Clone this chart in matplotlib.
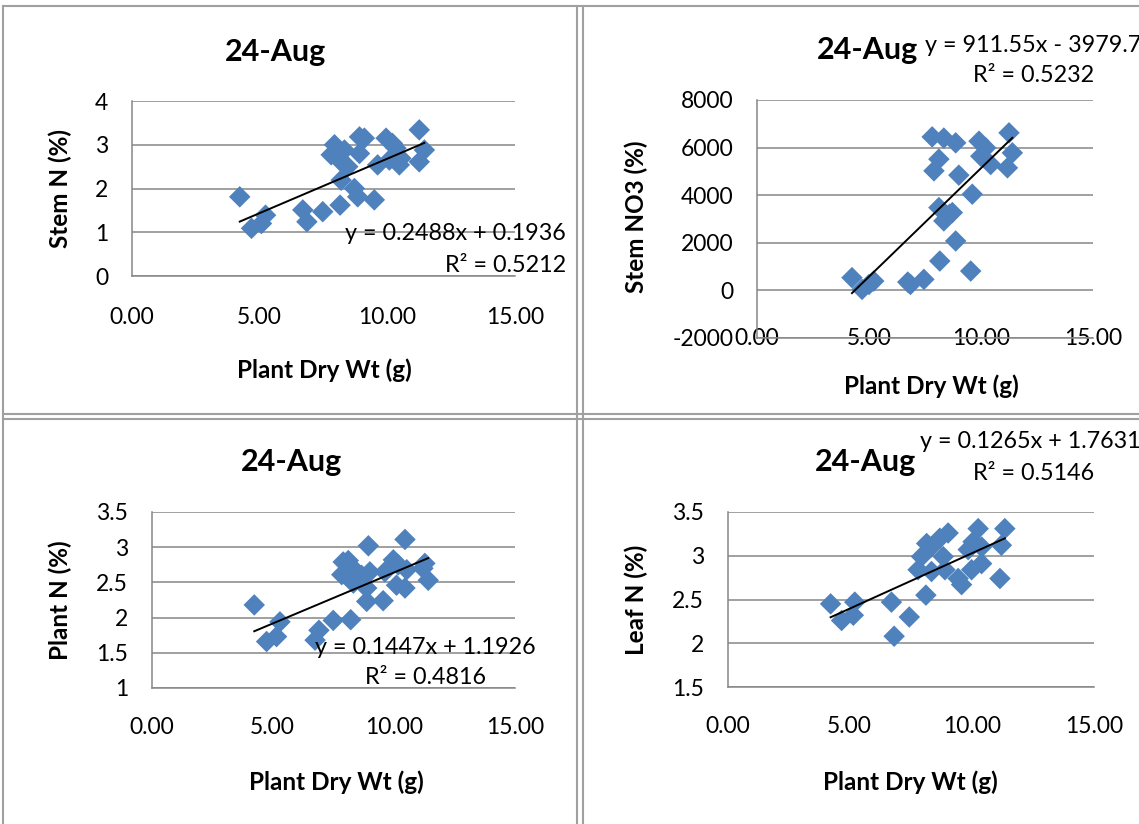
import matplotlib
matplotlib.use("Agg")
import matplotlib.pyplot as plt
from matplotlib.lines import Line2D
import numpy as np

plt.rcParams['font.family'] = ['Lato', 'DejaVu Sans']

# ---------------- data ----------------
title = "24-Aug"
x_label = "Plant Dry Wt (g)"
x_ticks = [0, 5, 10, 15]
x_tick_labels = ["0.00", "5.00", "10.00", "15.00"]

# Panel 1: Stem N (%)
p1_x = [4.22, 4.68, 5.07, 5.23, 6.69, 6.85, 7.47, 8.15, 8.71, 8.84, 9.49, 8.19, 7.93, 7.80, 8.32,
        8.19, 8.45, 8.91, 9.10, 8.91, 9.62, 9.95, 10.20, 10.34, 10.08, 10.47, 10.53, 11.25, 11.45, 11.25]
p1_y = [1.81, 1.09, 1.20, 1.39, 1.51, 1.24, 1.47, 1.62, 2.00, 1.81, 1.74, 2.19, 3.00, 2.77, 2.88,
        2.61, 2.50, 3.18, 3.15, 2.80, 2.54, 3.15, 3.03, 2.92, 2.65, 2.54, 2.69, 3.34, 2.88, 2.61]
p1_coef = [0.2488, 0.1936]
p1_eq = "y = 0.2488x + 0.1936"
p1_r2 = "R² = 0.5212"
p1_ylabel = "Stem N (%)"
p1_yticks = [0, 1, 2, 3, 4]
p1_yticklabels = ["0", "1", "2", "3", "4"]

# Panel 2: Stem NO3
p2_x = [4.24, 4.69, 5.00, 5.21, 6.73, 6.85, 7.45, 8.16, 8.87, 9.54, 8.12, 8.72, 8.34, 8.60, 9.61,
        9.01, 7.90, 8.12, 7.82, 8.34, 8.87, 9.91, 10.21, 9.99, 10.43, 11.25, 11.40, 11.18]
p2_y = [535, 42, 250, 392, 350, 250, 463, 1234, 2077, 813, 3480, 3270, 2920, 3200, 4042,
        4842, 5023, 5515, 6450, 6400, 6200, 6270, 5990, 5640, 5290, 6620, 5780, 5150]
p2_coef = [911.55, -3979.7]
p2_eq = "y = 911.55x - 3979.7"
p2_r2 = "R² = 0.5232"
p2_ylabel = "Stem NO3 (%)"
p2_yticks = [-2000, 0, 2000, 4000, 6000, 8000]
p2_yticklabels = ["-2000", "0", "2000", "4000", "6000", "8000"]

# Panel 3: Plant N (%)
p3_x = [4.24, 4.75, 5.16, 5.30, 6.75, 6.91, 7.50, 8.22, 8.88, 9.56, 8.95, 10.46, 7.91, 8.12, 7.85,
        8.26, 8.33, 8.67, 9.01, 8.88, 9.63, 9.98, 10.18, 10.11, 10.46, 10.53, 11.28, 11.42, 11.20]
p3_y = [2.18, 1.66, 1.73, 1.94, 1.68, 1.82, 1.96, 1.97, 2.23, 2.24, 3.02, 3.11, 2.79, 2.81, 2.61,
        2.72, 2.49, 2.60, 2.65, 2.42, 2.65, 2.82, 2.75, 2.46, 2.42, 2.68, 2.77, 2.53, 2.70]
p3_coef = [0.1447, 1.1926]
p3_eq = "y = 0.1447x + 1.1926"
p3_r2 = "R² = 0.4816"
p3_ylabel = "Plant N (%)"
p3_yticks = [1, 1.5, 2, 2.5, 3, 3.5]
p3_yticklabels = ["1", "1.5", "2", "2.5", "3", "3.5"]

# Panel 4: Leaf N (%)
p4_x = [4.22, 4.67, 5.21, 5.15, 6.71, 6.82, 7.44, 8.12, 7.80, 7.94, 8.15, 8.34, 8.35, 8.69, 9.03,
        8.83, 8.90, 9.44, 9.58, 9.99, 10.40, 9.85, 10.05, 10.26, 10.40, 11.35, 11.21, 11.15]
p4_y = [2.45, 2.26, 2.47, 2.32, 2.47, 2.08, 2.30, 2.55, 2.84, 2.99, 3.14, 3.10, 2.82, 3.20, 3.26,
        2.99, 2.84, 2.74, 2.67, 2.84, 2.91, 3.07, 3.16, 3.31, 3.10, 3.31, 3.12, 2.74]
p4_coef = [0.1265, 1.7631]
p4_eq = "y = 0.1265x + 1.7631"
p4_r2 = "R² = 0.5146"
p4_ylabel = "Leaf N (%)"
p4_yticks = [1.5, 2, 2.5, 3, 3.5]
p4_yticklabels = ["1.5", "2", "2.5", "3", "3.5"]

# ---------------- layout ----------------
W, H = 1139, 824
fig = plt.figure(figsize=(W / 100, H / 100), dpi=100)
fig.patch.set_facecolor("white")

def rect(l, t, r, b):
    return [l / W, 1 - b / H, (r - l) / W, (b - t) / H]

def ftext(x, y, s, **kw):
    fig.text(x / W, 1 - y / H, s, **kw)

# cell borders
border = "#a0a0a0"
for xp in [3, 577, 583]:
    fig.add_artist(Line2D([xp / W, xp / W], [0, 1 - 6 / H], color=border, lw=1.5))
for yp in [6, 414, 419]:
    fig.add_artist(Line2D([3 / W, 1], [1 - yp / H, 1 - yp / H], color=border, lw=1.5))

blue = "#4F81BD"
grid_c = "#868686"

panels = [
    dict(x=p1_x, y=p1_y, coef=p1_coef, eq=p1_eq, r2=p1_r2, ylabel=p1_ylabel,
         yt=p1_yticks, ytl=p1_yticklabels, box=(132, 101, 515, 276), xpad=22,
         title_xy=(275, 52), ylab_xy=(60, 188), xlab_xy=(324, 370),
         eq_xy=(566, 234), r2_xy=(566, 266), eq_ha="right"),
    dict(x=p2_x, y=p2_y, coef=p2_coef, eq=p2_eq, r2=p2_r2, ylabel=p2_ylabel,
         yt=p2_yticks, ytl=p2_yticklabels, box=(757, 100, 1093, 338), xpad=-7,
         title_xy=(867, 50), ylab_xy=(636, 217), xlab_xy=(931, 386),
         eq_xy=(925, 46), r2_xy=(1094, 75), eq_ha="left"),
    dict(x=p3_x, y=p3_y, coef=p3_coef, eq=p3_eq, r2=p3_r2, ylabel=p3_ylabel,
         yt=p3_yticks, ytl=p3_yticklabels, box=(151.5, 512, 515, 688), xpad=21,
         title_xy=(292, 462), ylab_xy=(60, 600), xlab_xy=(336, 782),
         eq_xy=(536, 647), r2_xy=(486, 677), eq_ha="right"),
    dict(x=p4_x, y=p4_y, coef=p4_coef, eq=p4_eq, r2=p4_r2, ylabel=p4_ylabel,
         yt=p4_yticks, ytl=p4_yticklabels, box=(727.5, 512, 1094, 687), xpad=21,
         title_xy=(865, 462), ylab_xy=(636, 600), xlab_xy=(910, 782),
         eq_xy=(920, 441), r2_xy=(1094, 473), eq_ha="left"),
]

tick_fs = 16.5
eq_fs = 16.8
lab_fs = 17.5
for p in panels:
    ax = fig.add_axes(rect(*p["box"]))
    ax.set_xlim(0, 15)
    ax.set_ylim(p["yt"][0], p["yt"][-1])
    ax.set_xticks(x_ticks)
    ax.set_xticklabels(x_tick_labels)
    ax.set_yticks(p["yt"])
    ax.set_yticklabels(p["ytl"])
    ax.tick_params(axis="both", length=0, labelsize=tick_fs, colors="black")
    ax.tick_params(axis="x", pad=p["xpad"])
    ax.tick_params(axis="y", pad=17)
    ax.grid(axis="y", color=grid_c, lw=1.1)
    ax.set_axisbelow(True)
    for s in ["top", "right"]:
        ax.spines[s].set_visible(False)
    for s in ["left", "bottom"]:
        ax.spines[s].set_color(grid_c)
        ax.spines[s].set_linewidth(1.1)
    ax.set_facecolor("none")
    ax.scatter(p["x"], p["y"], marker="D", s=120, color=blue, edgecolors="none", zorder=3)
    xs = np.array([min(p["x"]), max(p["x"])])
    ax.plot(xs, p["coef"][0] * xs + p["coef"][1], color="black", lw=1.4, zorder=4)

    ftext(*p["title_xy"], title, fontsize=22, fontweight="bold", ha="center", va="center")
    ftext(*p["ylab_xy"], p["ylabel"], fontsize=lab_fs, fontweight="bold", rotation=90,
          ha="center", va="center")
    ftext(*p["xlab_xy"], x_label, fontsize=lab_fs, fontweight="bold", ha="center", va="center")
    ftext(*p["eq_xy"], p["eq"], fontsize=eq_fs, ha=p["eq_ha"], va="center")
    ftext(*p["r2_xy"], p["r2"], fontsize=eq_fs, ha="right", va="center")

fig.savefig("out.png", dpi=100, facecolor="white")
